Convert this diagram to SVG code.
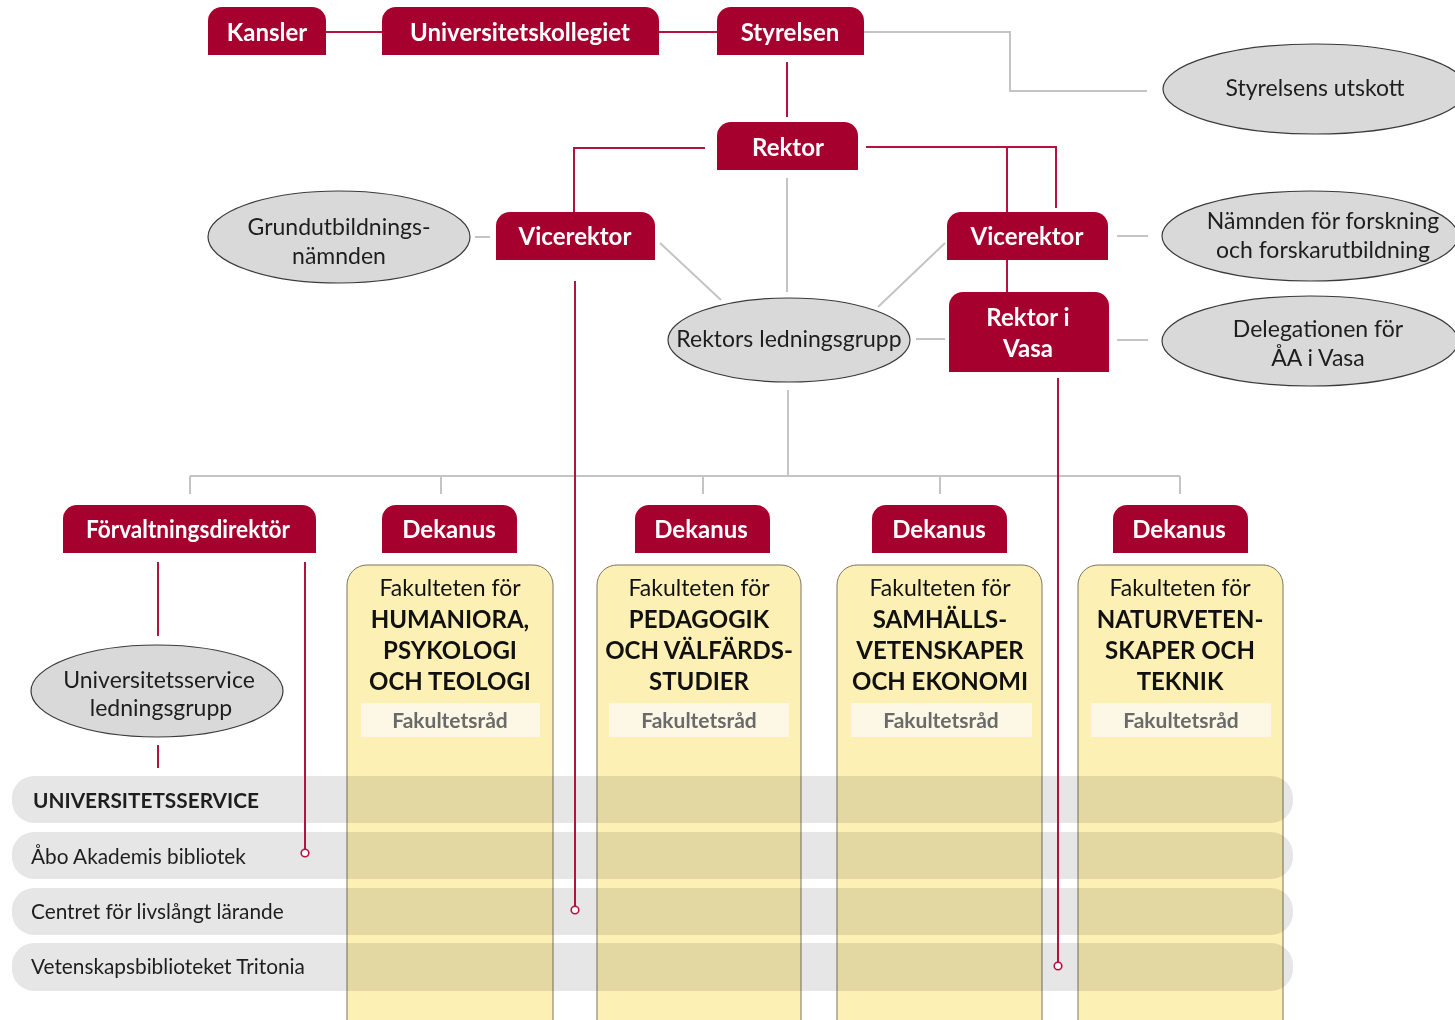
<svg xmlns="http://www.w3.org/2000/svg" width="1455" height="1020" viewBox="0 0 1455 1020">
<style>
.hd{fill:#a6002f}
.ht{fill:#fff;font-family:Lato,"Liberation Sans",sans-serif;font-weight:700;font-size:24px;text-anchor:middle}
.el{fill:#d9d9d9;stroke:#3a3a3a;stroke-width:1.2}
.et{fill:#1e1e1e;font-family:Lato,"Liberation Sans",sans-serif;font-size:23px;text-anchor:middle}
.rl{stroke:#b3143f;stroke-width:2;fill:none}
.gl{stroke:#c4c4c4;stroke-width:2;fill:none}
.dot{fill:#fff;stroke:#b3143f;stroke-width:1.6}
.fac{fill:#fdf0b4;stroke:#7d7560;stroke-width:1}
.ft{fill:#111;font-family:Lato,"Liberation Sans",sans-serif;font-size:23px;text-anchor:middle}
.fb{fill:#111;font-family:Lato,"Liberation Sans",sans-serif;font-size:24px;font-weight:700;text-anchor:middle}
.rr{fill:#fdf8e6}
.rt{fill:#6a6a6a;font-family:Lato,"Liberation Sans",sans-serif;font-size:21px;font-weight:700;text-anchor:middle}
.band{fill:#e6e6e6;mix-blend-mode:multiply}
.bt{fill:#1e1e1e;font-family:Lato,"Liberation Sans",sans-serif;font-size:20.8px}
</style>
<rect width="1455" height="1020" fill="#fff"/>

<g id="connectors">
<path class="rl" d="M326,32H382M659,32H717M787,62V117M705,148H574V212M866,147H1056V208M1007,147V212M1007,260V292"/>
<path class="gl" d="M864,32H1010V91H1147M787,178V292M660,243L721,300M945,243L878,307M475,237H490M1117,236H1148M916,339H945M1117,340H1148M788,390V476M190,476H1180M190,476V494M441,476V494M703,476V494M940,476V494M1180,476V494"/>
<path class="rl" d="M158,562V636M158,745V768"/>
</g>

<g id="faculties">
<path class="fac" d="M347,1025V585A20,20 0 0 1 367,565H533A20,20 0 0 1 553,585V1025"/>
<path class="fac" d="M597,1025V585A20,20 0 0 1 617,565H781A20,20 0 0 1 801,585V1025"/>
<path class="fac" d="M837,1025V585A20,20 0 0 1 857,565H1022A20,20 0 0 1 1042,585V1025"/>
<path class="fac" d="M1078,1025V585A20,20 0 0 1 1098,565H1263A20,20 0 0 1 1283,585V1025"/>
</g>

<g id="bands">
<rect class="band" x="12" y="776" width="1281" height="47" rx="22"/>
<rect class="band" x="12" y="832" width="1281" height="47" rx="22"/>
<rect class="band" x="12" y="888" width="1281" height="47" rx="22"/>
<rect class="band" x="12" y="943" width="1281" height="48" rx="22"/>
<text class="bt" x="33" y="808" font-weight="700" font-size="19.5">UNIVERSITETSSERVICE</text>
<text class="bt" x="31" y="864">Åbo Akademis bibliotek</text>
<text class="bt" x="31" y="919">Centret för livslångt lärande</text>
<text class="bt" x="31" y="974">Vetenskapsbiblioteket Tritonia</text>
</g>

<g id="long-lines">
<path class="rl" d="M575,281V906M1058,378V962M305,562V849"/>
<circle class="dot" cx="575" cy="910" r="3.8"/>
<circle class="dot" cx="1058" cy="966" r="3.8"/>
<circle class="dot" cx="305" cy="853" r="3.8"/>
</g>

<g id="kansler"><path class="hd" d="M208,55V21A14,14 0 0 1 222,7H312A14,14 0 0 1 326,21V55Z"/><text class="ht" x="267" y="41">Kansler</text></g>
<g id="universitetskollegiet"><path class="hd" d="M382,55V21A14,14 0 0 1 396,7H645A14,14 0 0 1 659,21V55Z"/><text class="ht" x="520" y="41">Universitetskollegiet</text></g>
<g id="styrelsen"><path class="hd" d="M717,55V21A14,14 0 0 1 731,7H850A14,14 0 0 1 864,21V55Z"/><text class="ht" x="790" y="41">Styrelsen</text></g>
<g id="styrelsens-utskott"><ellipse class="el" cx="1315" cy="89" rx="152" ry="45"/><text class="et" x="1315" y="96">Styrelsens utskott</text></g>
<g id="rektor"><path class="hd" d="M717,170V136A14,14 0 0 1 731,122H844A14,14 0 0 1 858,136V170Z"/><text class="ht" x="788" y="156">Rektor</text></g>
<g id="vicerektor-1"><path class="hd" d="M496,260V226A14,14 0 0 1 510,212H641A14,14 0 0 1 655,226V260Z"/><text class="ht" x="575" y="245">Vicerektor</text></g>
<g id="vicerektor-2"><path class="hd" d="M947,260V226A14,14 0 0 1 961,212H1094A14,14 0 0 1 1108,226V260Z"/><text class="ht" x="1027" y="245">Vicerektor</text></g>
<g id="grundutbildningsnamnden"><ellipse class="el" cx="339" cy="237" rx="131" ry="46"/><text class="et" x="339" y="235">Grundutbildnings-</text><text class="et" x="339" y="264">nämnden</text></g>
<g id="namnden-forskning"><ellipse class="el" cx="1310" cy="236" rx="148" ry="45"/><text class="et" x="1323" y="229">Nämnden för forskning</text><text class="et" x="1323" y="258">och forskarutbildning</text></g>
<g id="rektors-ledningsgrupp"><ellipse class="el" cx="789" cy="340" rx="121" ry="42"/><text class="et" x="789" y="347">Rektors ledningsgrupp</text></g>
<g id="rektor-vasa"><path class="hd" d="M949,372V306A14,14 0 0 1 963,292H1095A14,14 0 0 1 1109,306V372Z"/><text class="ht" x="1028" y="326">Rektor i</text><text class="ht" x="1028" y="357">Vasa</text></g>
<g id="delegationen"><ellipse class="el" cx="1310" cy="341" rx="148" ry="45"/><text class="et" x="1318" y="337">Delegationen för</text><text class="et" x="1318" y="366">ÅA i Vasa</text></g>

<g id="forvaltningsdirektor"><path class="hd" d="M63,553V519A14,14 0 0 1 77,505H302A14,14 0 0 1 316,519V553Z"/><text class="ht" x="188" y="538" textLength="204" lengthAdjust="spacingAndGlyphs">Förvaltningsdirektör</text></g>
<g id="universitetsservice-ledningsgrupp"><ellipse class="el" cx="157" cy="691" rx="126" ry="46"/><text class="et" x="159" y="688">Universitetsservice</text><text class="et" x="161" y="716">ledningsgrupp</text></g>

<g id="dekanus-1"><path class="hd" d="M382,553V519A14,14 0 0 1 396,505H503A14,14 0 0 1 517,519V553Z"/><text class="ht" x="449" y="538">Dekanus</text></g>
<g id="dekanus-2"><path class="hd" d="M635,553V519A14,14 0 0 1 649,505H756A14,14 0 0 1 770,519V553Z"/><text class="ht" x="701" y="538">Dekanus</text></g>
<g id="dekanus-3"><path class="hd" d="M872,553V519A14,14 0 0 1 886,505H993A14,14 0 0 1 1007,519V553Z"/><text class="ht" x="939" y="538">Dekanus</text></g>
<g id="dekanus-4"><path class="hd" d="M1113,553V519A14,14 0 0 1 1127,505H1234A14,14 0 0 1 1248,519V553Z"/><text class="ht" x="1179" y="538">Dekanus</text></g>

<g id="fakultet-1"><text class="ft" x="450" y="596">Fakulteten för</text><text class="fb" x="450" y="628">HUMANIORA,</text><text class="fb" x="450" y="659">PSYKOLOGI</text><text class="fb" x="450" y="690">OCH TEOLOGI</text><rect class="rr" x="361" y="703" width="179" height="34"/><text class="rt" x="450" y="728">Fakultetsråd</text></g>
<g id="fakultet-2"><text class="ft" x="699" y="596">Fakulteten för</text><text class="fb" x="699" y="628">PEDAGOGIK</text><text class="fb" x="699" y="659">OCH VÄLFÄRDS-</text><text class="fb" x="699" y="690">STUDIER</text><rect class="rr" x="609" y="703" width="180" height="34"/><text class="rt" x="699" y="728">Fakultetsråd</text></g>
<g id="fakultet-3"><text class="ft" x="940" y="596">Fakulteten för</text><text class="fb" x="940" y="628">SAMHÄLLS-</text><text class="fb" x="940" y="659">VETENSKAPER</text><text class="fb" x="940" y="690">OCH EKONOMI</text><rect class="rr" x="851" y="703" width="181" height="34"/><text class="rt" x="941" y="728">Fakultetsråd</text></g>
<g id="fakultet-4"><text class="ft" x="1180" y="596">Fakulteten för</text><text class="fb" x="1180" y="628">NATURVETEN-</text><text class="fb" x="1180" y="659">SKAPER OCH</text><text class="fb" x="1180" y="690">TEKNIK</text><rect class="rr" x="1091" y="703" width="180" height="34"/><text class="rt" x="1181" y="728">Fakultetsråd</text></g>
</svg>
